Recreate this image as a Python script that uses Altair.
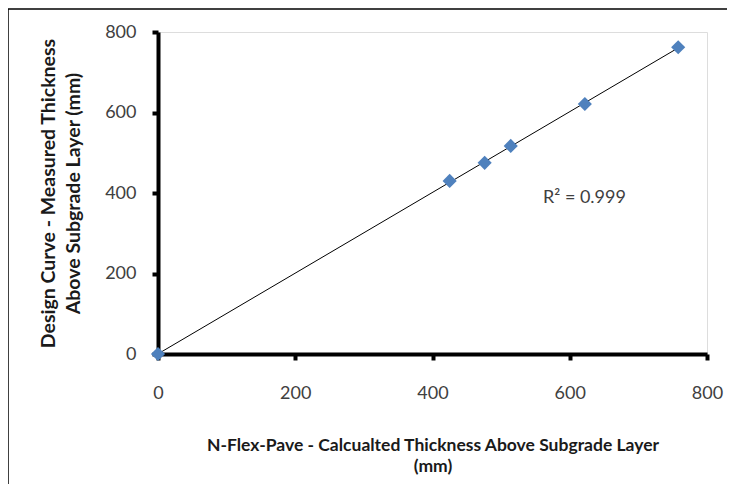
import altair as alt
import pandas as pd

calc_x = [0, 425, 476, 514, 622, 758]
meas_y = [0, 430, 475, 517, 621, 762]
x_ticks = [0, 200, 400, 600, 800]
y_ticks = [0, 200, 400, 600, 800]
r2_label = ["R² = 0.999"]
r2_pos = [(561, 388)]

df = pd.DataFrame({"x": calc_x, "y": meas_y})
lab = pd.DataFrame({"x": [r2_pos[0][0]], "y": [r2_pos[0][1]], "t": r2_label})

FONT = "Lato"
W, H = 549, 322

xs = alt.Scale(domain=[0, 800], nice=False)
ys = alt.Scale(domain=[0, 800], nice=False)

x_axis = alt.Axis(
    values=x_ticks, title=["N-Flex-Pave - Calcualted Thickness Above Subgrade Layer", "(mm)"],
    labelPadding=24, titleFontSize=17.5, titlePadding=34, titleLineHeight=21,
)
y_axis = alt.Axis(
    values=y_ticks, title=["Design Curve - Measured Thickness", "Above Subgrade Layer (mm)"],
    labelPadding=16, titleFontSize=19.5, titlePadding=21, titleLineHeight=25,
)

base = alt.Chart(df)

trend = base.mark_line(color="black", strokeWidth=1).encode(
    x=alt.X("x:Q", scale=xs, axis=x_axis),
    y=alt.Y("y:Q", scale=ys, axis=y_axis),
).transform_regression("x", "y")

pts = base.mark_point(shape="diamond", filled=True, size=200, color="#4F81BD", opacity=1).encode(
    x=alt.X("x:Q", scale=xs, axis=x_axis),
    y=alt.Y("y:Q", scale=ys, axis=y_axis),
)

txt = alt.Chart(lab).mark_text(align="left", baseline="middle", font=FONT, fontSize=18, color="#404040").encode(
    x=alt.X("x:Q", scale=xs), y=alt.Y("y:Q", scale=ys), text="t:N"
)

one = pd.DataFrame({"a": [0]})
frame_top = alt.Chart(one).mark_rule(color="black", strokeWidth=1.5).encode(
    x=alt.value(-150), x2=alt.value(W + 40), y=alt.value(-23)
)
frame_left = alt.Chart(one).mark_rule(color="black", strokeWidth=1.5).encode(
    x=alt.value(-150), y=alt.value(-23), y2=alt.value(H + 200)
)

chart = alt.layer(frame_top, frame_left, trend, pts, txt).properties(
    width=W, height=H,
    autosize=alt.AutoSizeParams(type="none"),
    padding={"left": 150, "top": 24, "right": 20, "bottom": 130},
).configure_view(stroke=None).configure(background="white").configure_axis(
    grid=False, domainColor="black", domainWidth=4, tickColor="black", tickWidth=4, tickSize=6,
    labelFont=FONT, labelFontSize=18, labelColor="#404040", labelFlush=False,
    titleFont=FONT, titleFontWeight="bold", titleColor="#1a1a1a",
)

chart.save("out.html", embed_options={"renderer": "svg", "actions": False})
